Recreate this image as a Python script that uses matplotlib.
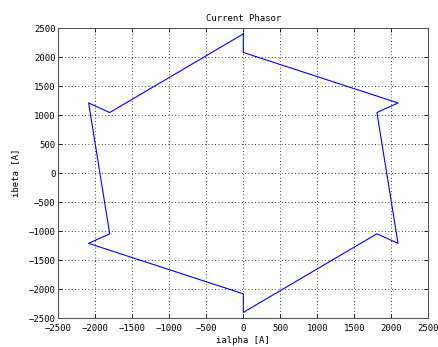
import matplotlib
matplotlib.use('Agg')
import matplotlib.pyplot as plt

# corner points of the current phasor trajectory, in [A]
ialpha = [0, -1805, -2090, -1805, -2090, 0, 0, 1805, 2090, 1805, 2090, 0, 0]
ibeta = [2400, 1045, 1210, -1045, -1210, -2080, -2400, -1045, -1210, 1045, 1210, 2080, 2400]

ticks = list(range(-2500, 2501, 500))

plt.rcParams['font.family'] = 'DejaVu Sans Mono'
plt.rcParams['font.size'] = 6.5

fig = plt.figure(figsize=(4.38, 3.47), dpi=100)
ax = fig.add_axes([0.133, 0.083, 0.845, 0.836])

ax.plot(ialpha, ibeta, color='#0000ff', linewidth=0.8)

ax.set_xlim(-2500, 2500)
ax.set_ylim(-2500, 2500)
ax.set_xticks(ticks)
ax.set_yticks(ticks)
ax.tick_params(direction='in', length=3, width=0.6, top=True, right=True,
               labelsize=6.5)
ax.tick_params(axis='x', pad=4)
ax.tick_params(axis='y', pad=2)
ax.grid(True, linestyle=(0, (1, 3)), color='black', linewidth=0.6)

for s in ax.spines.values():
    s.set_color('#555555')
    s.set_linewidth(0.8)

ax.set_title('Current Phasor', fontsize=6.5, pad=5)
ax.set_xlabel('ialpha [A]', fontsize=6.5, labelpad=2)
ax.set_ylabel('ibeta [A]', fontsize=6.5, labelpad=6)

fig.savefig('out.png', dpi=100)
